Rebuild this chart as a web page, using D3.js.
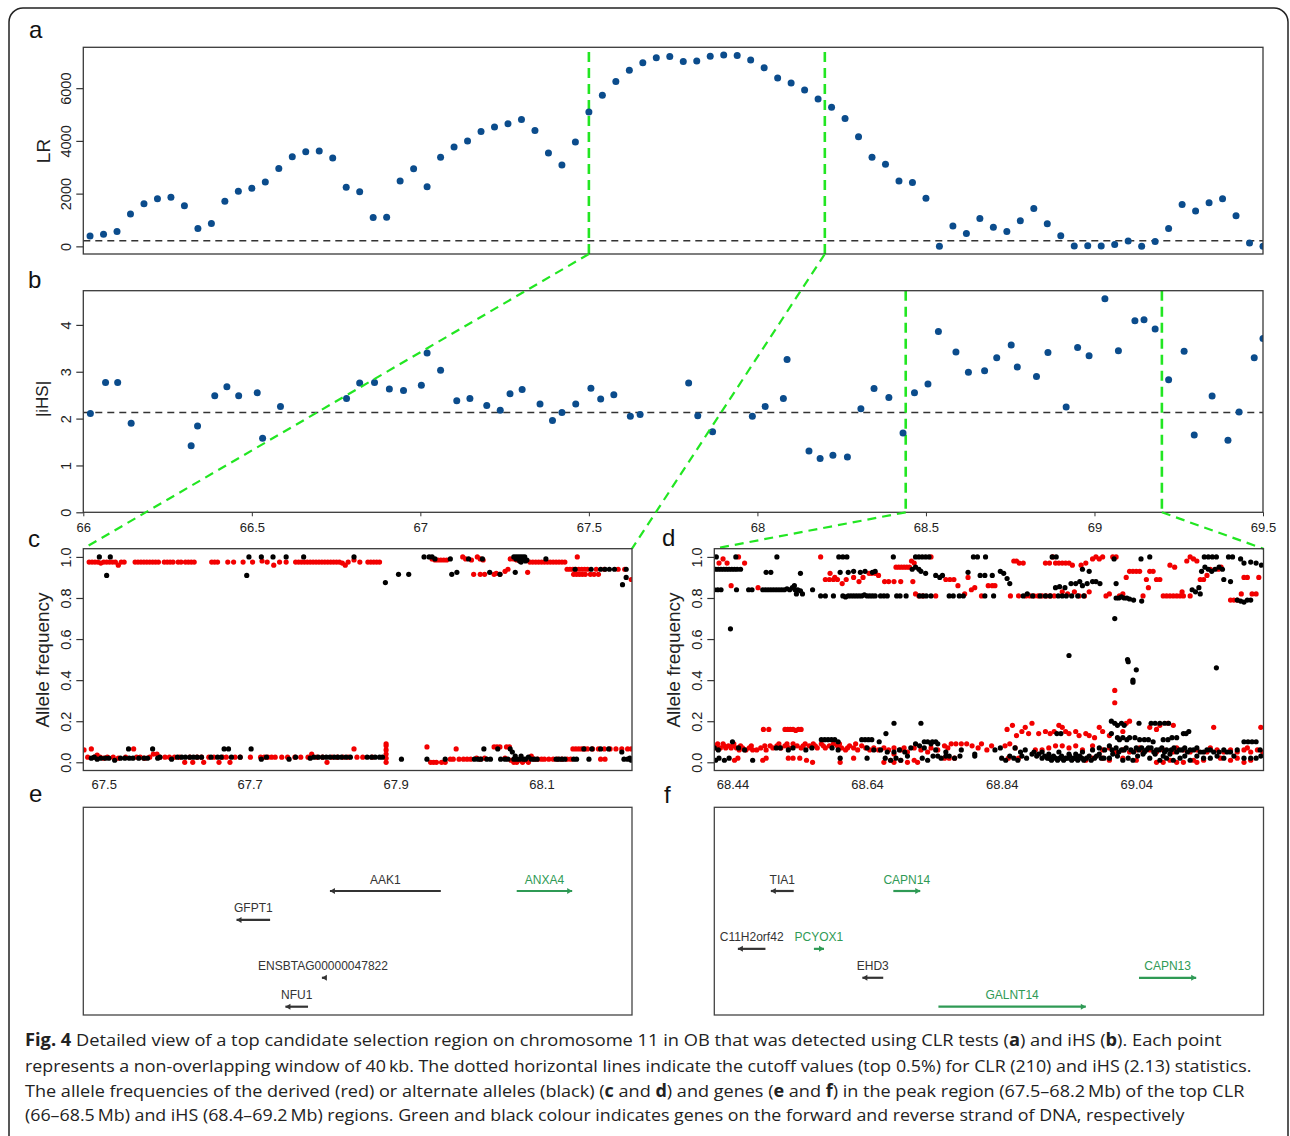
<!DOCTYPE html>
<html><head><meta charset="utf-8">
<script src="https://cdn.jsdelivr.net/npm/d3@7"></script>
<style>body{margin:0;background:#fff}svg{display:block}</style>
</head><body><svg id="fig" width="1290" height="1136"></svg>
<script>
// ---------------- DATA ----------------
// Panel a: CLR windows (Mb) and LR values
const posA = [66.02,66.06,66.10,66.14,66.18,66.22,66.26,66.30,66.34,66.38,
66.42,66.46,66.50,66.54,66.58,66.62,66.66,66.70,66.74,66.78,
66.82,66.86,66.90,66.94,66.98,67.02,67.06,67.10,67.14,67.18,
67.22,67.26,67.30,67.34,67.38,67.42,67.46,67.50,67.54,67.58,
67.62,67.66,67.70,67.74,67.78,67.82,67.86,67.90,67.94,67.98,
68.02,68.06,68.10,68.14,68.18,68.22,68.26,68.30,68.34,68.38,
68.42,68.46,68.50,68.54,68.58,68.62,68.66,68.70,68.74,68.78,
68.82,68.86,68.90,68.94,68.98,69.02,69.06,69.10,69.14,69.18,
69.22,69.26,69.30,69.34,69.38,69.42,69.46,69.50];
const lrValues = [390,455,560,1230,1620,1810,1860,1540,680,870,
1710,2090,2200,2440,2950,3400,3590,3620,3350,2240,
2070,1090,1100,2480,2940,2260,3380,3770,4000,4360,
4530,4650,4810,4390,3540,3090,3960,5100,5730,6250,
6680,6960,7150,7200,7010,7030,7210,7260,7240,7070,
6770,6390,6200,5930,5590,5280,4850,4160,3380,3110,
2480,2420,1820,0,770,490,1060,720,560,970,
1440,860,400,15,25,15,75,200,0,180,
680,1590,1340,1650,1810,1160,130,0];
const lrCutoff = 210;
const lrTicks = [0,2000,4000,6000];

// Panel b: iHS windows
const posB = [66.021,66.066,66.102,66.142,66.32,66.339,66.39,66.426,66.461,66.516,66.532,66.585,
66.781,66.82,66.864,66.908,66.95,67.003,67.02,67.06,67.108,67.147,67.197,67.237,67.266,67.302,
67.355,67.392,67.42,67.461,67.506,67.535,67.574,67.623,67.652,67.796,67.823,67.867,67.985,68.023,
68.077,68.088,68.153,68.186,68.224,68.267,68.307,68.346,68.39,68.432,68.466,68.506,68.537,68.589,
68.626,68.674,68.71,68.753,68.771,68.828,68.862,68.916,68.95,68.984,69.031,69.071,69.12,69.147,
69.18,69.22,69.266,69.296,69.349,69.396,69.429,69.474,69.5];
const ihsValues = [2.11,2.77,2.77,1.90,1.42,1.84,2.49,2.68,2.49,2.55,1.58,2.26,
2.43,2.76,2.77,2.63,2.60,2.71,3.40,3.03,2.38,2.43,2.28,2.18,2.53,2.62,
2.31,1.96,2.13,2.31,2.65,2.42,2.51,2.05,2.09,2.76,2.06,1.72,2.05,2.26,
2.43,3.26,1.31,1.15,1.22,1.18,2.21,2.64,2.45,1.69,2.55,2.74,3.86,3.42,
2.99,3.02,3.30,3.57,3.10,2.90,3.41,2.25,3.52,3.34,4.56,3.45,4.09,4.11,
3.91,2.83,3.44,1.65,2.48,1.54,2.14,3.30,3.71];
const ihsCutoff = 2.13;
const ihsTicks = [0,1,2,3,4];
const xTicksAB = [66,66.5,67,67.5,68,68.5,69,69.5];

// Highlighted regions
const clrPeak = [67.5, 68.2];
const ihsPeak = [68.44, 69.2];

// Panel c: allele frequencies [position Mb, frequency]
const cDerived = [
[67.480,.975],[67.484,.975],[67.488,.975],[67.492,.975],[67.496,.97],[67.500,.975],[67.504,.975],[67.508,.975],[67.512,.975],[67.516,.975],[67.520,.96],[67.524,.975],[67.528,.975],
[67.543,.975],[67.547,.975],[67.551,.975],[67.555,.975],[67.559,.975],[67.563,.975],[67.567,.975],[67.571,.975],[67.575,.975],
[67.583,.975],[67.587,.975],[67.591,.975],[67.595,.975],[67.602,.975],[67.606,.975],[67.612,.975],[67.616,.975],[67.620,.975],[67.624,.975],
[67.648,.975],[67.652,.975],[67.656,.975],[67.670,.975],[67.678,.975],[67.691,.975],
[67.704,.975],[67.717,.98],[67.724,.975],[67.733,.96],[67.741,.975],[67.750,.975],
[67.763,.975],[67.767,.975],[67.771,.975],[67.775,.975],[67.779,.975],[67.783,.975],[67.787,.975],[67.791,.975],[67.795,.975],[67.799,.975],[67.803,.975],[67.807,.975],[67.811,.975],[67.815,.975],[67.819,.975],[67.823,.975],[67.827,.97],[67.831,.96],[67.835,.975],
[67.843,.985],[67.851,.975],[67.862,.975],[67.866,.975],[67.870,.975],[67.874,.975],[67.878,.975],
[67.950,.99],[67.954,.985],[67.958,.985],[67.962,.985],[67.966,.985],[67.970,.985],
[67.992,1.0],[67.996,.99],[68.004,.985],[68.012,1.0],[68.016,.99],[68.020,.985],
[68.007,.915],[68.016,.915],[68.022,.915],[68.035,.915],[68.038,.92],[68.043,.915],
[68.050,.93],[68.054,.94],[68.057,.99],[68.062,.99],[68.066,.985],[68.070,.99],[68.081,.925],
[68.084,.975],[68.088,.975],[68.092,.975],[68.096,.975],[68.100,.975],[68.104,.975],[68.108,.975],[68.112,.975],[68.116,.975],[68.120,.975],[68.124,.975],[68.128,.975],[68.132,.975],
[68.149,1.0],
[68.135,.94],[68.139,.94],[68.143,.94],[68.147,.94],[68.151,.94],[68.155,.94],[68.159,.94],[68.163,.94],[68.175,.94],[68.186,.94],[68.205,.94],[68.214,.94],
[68.144,.915],[68.148,.915],[68.152,.915],[68.156,.915],[68.160,.915],[68.167,.915],[68.172,.915],[68.178,.915],[68.223,.89],
[67.473,.06],[67.478,.025],[67.483,.065],[67.487,.025],[67.491,.035],[67.495,.025],[67.50,.02],[67.505,.025],[67.513,.025],[67.52,.02],[67.53,.025],[67.541,.065],[67.545,.025],[67.55,.025],[67.556,.02],[67.563,.025],[67.568,.04],[67.573,.04],[67.577,.025],[67.584,.025],[67.59,.025],[67.597,.025],[67.604,.025],[67.611,.0],[67.618,.025],[67.622,.0],[67.628,.025],[67.634,.025],[67.637,.0],[67.644,.025],[67.651,.025],[67.658,.0],[67.663,.025],[67.668,.025],[67.673,.0],[67.68,.025],[67.687,.025],[67.701,.025],[67.715,.025],[67.72,.025],[67.725,.025],[67.73,.025],[67.735,.025],[67.744,.025],[67.752,.025],[67.762,.025],[67.77,.025],[67.78,.025],[67.785,.04],[67.792,.025],[67.8,.025],[67.806,.0],[67.813,.025],[67.82,.025],[67.828,.025],[67.835,.025],[67.843,.065],[67.847,.025],[67.855,.025],[67.868,.025],
[67.887,0],[67.887,.02],[67.887,.04],[67.887,.06],[67.887,.08],[67.887,.09],
[67.943,.075],[67.948,0],[67.952,0],[67.956,0],[67.963,0],[67.968,0],[67.975,.015],[67.979,.015],[67.983,.065],[67.987,.015],[67.993,.015],[67.998,.015],[68.003,.015],[68.011,.02],[68.016,.015],[68.022,.02],
[68.035,.075],[68.039,.075],[68.043,.075],[68.05,.02],[68.052,.075],[68.056,.075],[68.058,.01],[68.062,.0],[68.066,0],[68.07,.01],[68.074,0],[68.078,.01],[68.082,.0],[68.086,.03],[68.09,.015],
[68.095,.015],[68.1,.015],[68.104,.015],[68.11,.015],[68.116,.015],[68.122,.015],[68.128,.015],[68.135,.015],[68.14,.015],
[68.143,.065],[68.147,.065],[68.151,.065],[68.155,.065],[68.159,.065],[68.163,.065],[68.17,.065],[68.178,.065],[68.186,.065],[68.194,.065],[68.202,.065],[68.21,.065],[68.218,.065],[68.223,.065],
[68.181,.015],[68.187,.015]];
const cAlternate = [
[67.494,1.0],[67.509,1.0],[67.504,.91],[67.699,1.0],[67.696,.91],[67.716,1.0],[67.732,1.0],[67.750,1.0],[67.774,1.0],[67.843,1.0],[67.886,.875],[67.904,.915],[67.918,.915],
[67.939,1.0],[67.946,1.0],[67.950,1.0],[67.954,.99],[67.975,.99],[67.977,.915],[67.984,.925],[68.000,.99],[68.019,.99],[68.029,.925],[68.043,.915],[68.064,.925],
[68.062,1.0],[68.065,1.0],[68.068,1.0],[68.071,1.0],[68.074,1.0],[68.077,1.0],[68.065,.99],[68.07,.98],[68.074,.99],[68.078,.98],[68.072,.975],[68.08,.985],[68.106,.99],
[68.146,.94],[68.168,.94],[68.181,.94],[68.187,.94],[68.193,.94],[68.2,.94],[68.216,.94],[68.216,.9],[68.211,.865],
[67.483,.02],[67.487,.025],[67.491,.015],[67.496,.02],[67.502,.02],[67.507,.02],[67.515,.01],[67.523,.02],[67.529,.02],[67.534,.065],[67.535,.02],[67.54,.02],[67.548,.02],[67.555,.02],[67.56,.02],[67.567,.065],[67.574,.02],[67.577,.025],[67.593,.015],[67.601,.025],[67.607,.025],[67.612,.025],[67.618,.025],[67.623,.025],[67.628,.025],[67.634,.025],[67.647,.025],[67.656,.025],[67.661,.025],[67.665,.065],[67.671,.065],[67.675,.025],[67.687,.025],[67.702,.065],[67.716,.015],[67.723,.025],[67.754,.015],[67.763,.025],[67.783,.02],[67.788,.025],[67.794,.025],[67.8,.025],[67.805,.025],[67.81,.025],[67.816,.025],[67.821,.025],[67.826,.025],[67.832,.025],[67.838,.025],[67.861,.025],[67.867,.025],[67.872,.025],[67.878,.025],[67.882,.025],
[67.908,.015],[67.943,.015],[67.968,.015],
[68.008,.015],[68.013,.015],[68.017,.015],[68.021,.065],[68.025,.015],[68.03,.015],[68.04,.065],[68.044,.015],[68.05,.015],[68.054,.015],[68.057,.065],[68.06,.05],[68.062,.015],[68.064,.03],[68.066,.015],[68.07,.015],[68.072,.03],[68.075,.015],[68.078,.015],[68.082,.025],[68.086,.015],[68.09,.015],[68.094,.015],
[68.12,.015],[68.124,.015],[68.128,.015],[68.132,.015],[68.144,.015],[68.148,.015],[68.165,.015],
[68.158,.065],[68.169,.065],[68.181,.065],[68.192,.065],[68.21,.05],[68.213,.015],[68.218,.015],[68.221,.02],[68.223,.01]];

// Panel d
const dDerived = [
[68.42,.97],[68.426,.99],[68.432,.97],[68.438,.86],[68.449,1.0],[68.458,.97],[68.478,.85],
[68.571,1.0],[68.578,.89],[68.584,.89],[68.59,.89],[68.596,.89],[68.603,.87],[68.609,.89],[68.62,.9],[68.643,.92],[68.647,.92],[68.652,.92],[68.657,.91],[68.666,.88],[68.672,.88],[68.68,.88],[68.69,.88],[68.683,.95],[68.687,.95],[68.691,.95],[68.695,.95],[68.699,.95],[68.703,.95],[68.708,.88],[68.712,.82],[68.717,.81],[68.723,.81],[68.735,1.0],[68.742,.81],[68.757,.89],[68.763,.89],[68.769,.89],[68.775,.86],[68.785,.82],[68.8,.85],[68.81,.81],[68.82,.86],[68.826,.86],[68.83,.86],[68.858,.98],[68.862,.98],[68.866,.97],[68.872,.97],[68.876,.81],[68.882,.81],[68.888,.81],[68.894,.81],[68.9,.81],[68.906,.81],[68.912,.81],[68.918,.81],[68.905,.97],[68.911,.97],[68.916,1.0],[68.92,.97],[68.925,.97],[68.93,.97],[68.935,.97],[68.94,.97],[68.945,.96],[68.93,.83],[68.938,.82],[68.948,.83],[68.955,.81],[68.963,.81],[68.97,.83],[68.975,.99],[68.98,1.0],[68.985,.99],[68.99,1.0],[68.995,.81],[69.0,.82],[69.005,1.0],[69.01,1.0],[69.015,.81],[69.02,.82],[69.025,.9],[69.03,.93],[69.035,.93],[69.04,.93],[69.045,.93],[69.05,.81],[69.055,.89],[69.06,.93],[69.065,.93],[69.07,.89],[69.075,.89],[69.08,.81],[69.085,.81],[69.09,.81],[69.095,.81],[69.1,.81],[69.105,.81],[69.11,.81],[69.12,.81],[69.115,.98],[69.12,1.0],[69.125,.99],[69.13,.98],[69.135,.89],[69.14,.89],[69.145,.91],[69.15,.94],[69.162,.94],[69.18,.79],[69.185,.79],[69.19,.79],[69.196,.82],[69.2,.9],[69.205,.9],[69.212,.82],[69.218,.82],[69.222,.9],
[68.585,.92],[68.592,.9],[68.628,.88],[68.634,.9],[68.706,.98],[68.71,.97],[68.79,.9],[68.795,.84],[68.853,.81],[68.865,.81],[68.958,.96],[68.965,.97],[69.058,.85],[69.09,.96],[69.097,.95],[69.108,.83],[69.166,.95],
[69.008,.35],[69.008,.29],
[68.413,.07],[68.418,.09],[68.422,.07],[68.426,.09],[68.43,.07],[68.434,.08],[68.438,.07],[68.442,.09],[68.446,.07],[68.45,.06],[68.455,.07],[68.46,.06],[68.465,.07],[68.47,.06],[68.476,.06],[68.482,.07],[68.49,.06],[68.496,.08],[68.5,.07],[68.506,.08],[68.512,.07],[68.518,.08],[68.524,.07],[68.53,.09],[68.536,.08],[68.542,.07],[68.548,.09],[68.554,.08],[68.56,.09],[68.566,.07],[68.572,.09],[68.578,.07],[68.584,.08],[68.59,.09],[68.596,.08],[68.602,.07],[68.608,.06],[68.614,.08],[68.62,.07],[68.626,.06],[68.632,.08],[68.638,.07],[68.644,.06],[68.65,.07],[68.657,.06],[68.665,.07],[68.672,.06],[68.68,.04],[68.69,.06],[68.7,.05],[68.71,.07],[68.72,.06],[68.73,.05],[68.745,.06],[68.755,.08],[68.765,.09],[68.772,.09],[68.78,.09],[68.788,.09],[68.796,.08],[68.805,.07],[68.818,.06],[68.845,.08],[68.852,.09],[68.86,.07],[68.89,.06],[68.9,.06],[68.92,.08],[68.93,.08],[68.94,.07],[68.96,.06],[68.975,.08],[68.99,.06],[69.01,.05],[69.02,.06],[69.03,.05],[69.04,.06],[69.05,.05],[69.06,.06],[69.07,.05],[69.08,.06],[69.095,.05],[69.11,.06],[69.12,.05],[69.13,.06],[69.145,.05],[69.16,.06],[69.17,.05],[69.18,.06],[69.19,.05],[69.2,.06],[69.21,.05],[69.22,.06],[69.228,.05],
[68.416,.08],[68.428,.08],[68.44,.08],[68.452,.08],[68.468,.08],[68.488,.08],[68.509,.09],[68.521,.09],[68.545,.08],[68.563,.08],[68.575,.08],[68.599,.09],[68.611,.07],[68.623,.09],[68.68,.07],[68.695,.07],[68.735,.07],[68.76,.07],[68.81,.09],[68.825,.08],[68.91,.07],[68.95,.08],[69.0,.07],[69.045,.07],[69.1,.07],[69.15,.07],[69.205,.07],
[68.486,.16],[68.494,.16],[68.518,.16],[68.522,.16],[68.526,.16],[68.53,.16],[68.534,.155],[68.538,.16],[68.542,.16],
[68.443,.01],[68.448,.02],[68.485,.01],[68.49,.02],[68.523,.02],[68.53,.02],[68.54,.02],[68.55,.01],[68.559,.0],[68.6,.0],[68.62,.02],[68.665,.0],[68.675,.01],[68.68,.0],[68.69,.01],[68.7,.0],[68.71,.01],[68.715,.0],[68.755,.02],[68.762,.02],[68.77,.02],[68.85,.02],[68.865,.02],[68.95,.02],[68.965,.01],[68.975,.02],[68.99,.02],[69.0,.01],[69.02,.02],[69.04,.01],[69.07,.0],[69.08,.0],[69.09,.01],[69.1,.0],[69.11,.0],[69.125,.01],[69.13,.0],[69.14,.01],[69.165,.02],[69.18,.01],[69.19,.02],[69.2,.0],[69.21,.01],
[68.848,.16],[68.856,.18],[68.862,.13],[68.87,.15],[68.875,.17],[68.88,.14],[68.885,.19],[68.895,.14],[68.905,.15],[68.912,.14],[68.918,.15],[68.925,.18],[68.93,.17],[68.935,.15],[68.94,.14],[68.95,.15],[68.955,.13],[68.965,.14],[68.97,.13],[68.978,.12],[68.985,.17],[68.99,.15],[69.0,.13],[69.025,.19],[69.03,.2],[69.06,.17],[69.07,.16],[69.075,.18],[69.087,.19],[69.095,.18],[69.155,.17],[69.225,.17],[69.02,.15]];
const dAlternate = [
[68.415,.94],[68.419,.94],[68.423,.94],[68.427,.94],[68.431,.94],[68.435,.94],[68.439,.94],[68.443,.94],[68.447,.94],[68.452,.94],
[68.416,1],[68.445,1],[68.506,1],[68.598,1],[68.604,1],[68.61,1],[68.679,1],[68.712,1],[68.717,1],[68.722,1],[68.727,1],[68.732,1],[68.798,1],[68.804,1],[68.816,1],[68.915,1],[68.921,1],[69.007,.99],[69.047,.99],[69.06,1],[69.141,1],[69.147,1],[69.153,1],[69.159,1],[69.177,1],[69.183,1],[69.195,.99],
[68.413,.84],[68.418,.84],[68.423,.84],[68.446,.84],[68.464,.84],[68.469,.84],[68.485,.84],[68.489,.84],[68.493,.84],[68.497,.84],[68.501,.84],[68.505,.84],[68.509,.84],[68.513,.84],[68.517,.84],[68.521,.845],[68.525,.84],[68.529,.85],[68.533,.84],[68.537,.84],[68.541,.835],[68.544,.82],[68.559,.84],
[68.571,.81],[68.578,.81],[68.59,.81],[68.604,.81],[68.608,.805],[68.612,.81],[68.616,.81],[68.62,.81],[68.624,.81],[68.628,.81],[68.632,.81],[68.636,.815],[68.64,.81],[68.644,.81],[68.648,.81],[68.652,.81],[68.66,.81],[68.665,.81],[68.67,.81],[68.684,.81],[68.689,.81],[68.698,.81],[68.718,.81],[68.723,.81],[68.728,.81],[68.735,.81],[68.762,.81],[68.768,.81],[68.777,.81],[68.783,.81],[68.815,.81],[68.828,.81],[68.872,.81],[68.878,.82],[68.886,.81],[68.897,.81],[68.905,.81],[68.912,.81],[68.924,.81],[68.93,.81],[68.936,.81],[68.944,.81],[68.953,.81],[68.962,.81],[69.01,.80],[69.014,.80],[69.018,.805],[69.022,.80],[69.026,.80],[69.03,.795],[69.036,.79],
[68.49,.925],[68.497,.925],[68.541,.92],[68.6,.925],[68.612,.925],[68.62,.93],[68.63,.925],[68.637,.93],[68.648,.925],[68.652,.93],[68.707,.94],[68.712,.95],[68.717,.94],[68.72,.93],[68.727,.92],[68.742,.91],[68.748,.9],[68.752,.91],[68.79,.925],[68.808,.91],[68.815,.91],[68.826,.91],[68.838,.93],[68.843,.92],[68.848,.895],[68.852,.87],[68.96,.94],[68.97,.93],[69.137,.93],[69.142,.95],[69.147,.94],[69.152,.93],[69.157,.94],[69.163,.95],[69.168,.94],[69.17,.89],
[68.532,.86],[68.535,.82],[68.92,.85],[68.926,.855],[68.934,.85],[68.943,.87],[68.95,.87],[68.956,.88],[68.96,.86],[68.967,.87],[68.975,.88],[68.98,.88],[68.986,.87],[69.01,.87],[69.123,.84],[69.128,.83],[69.133,.85],[69.135,.82],[69.18,.88],
[69.048,.785],[69.19,.79],[69.195,.785],[69.2,.78],[69.205,.79],[69.21,.79],[69.2,.97],[69.21,.975],[69.218,.97],[69.226,.96],
[68.437,.65],[69.008,.7],[68.94,.52],[69.027,.5],[69.028,.49],[69.04,.45],[69.035,.4],[69.035,.39],[69.159,.46],
[68.415,.01],[68.42,.02],[68.428,.01],[68.435,.02],[68.47,.01],[68.6,.02],[68.64,.02],[68.667,.02],[68.675,.01],[68.683,.02],[68.69,.01],[68.7,.03],[68.722,.02],[68.73,.01],[68.738,.03],[68.745,.03],[68.75,.02],[68.757,.03],[68.762,.03],[68.77,.02],[68.778,.03],[68.8,.03],[68.84,.02],[68.846,.01],[68.852,.03],[68.858,.02],[68.864,.01],[68.87,.03],[68.877,.02],[68.885,.04],[68.892,.03],[68.9,.02],[68.908,.02],[68.914,.01],[68.92,.02],[68.926,.02],[68.932,.01],[68.938,.02],[68.944,.01],[68.95,.02],[68.956,.03],[68.962,.01],[68.97,.03],[68.978,.02],[68.985,.04],[68.992,.02],[69.0,.02],[69.02,.01],[69.028,.02],[69.035,.01],[69.06,.02],[69.075,.01],[69.085,.02],[69.095,.01],[69.105,.02],[69.12,.01],[69.14,.02],[69.15,.02],[69.17,.02],[69.2,.02],[69.21,.02],[69.218,.02],[69.225,.03],
[68.904,.03],[68.911,.02],[68.917,.03],[68.923,.01],[68.929,.03],[68.935,.02],[68.941,.03],[68.947,.02],[68.953,.01],[68.959,.02],[68.966,.02],[68.973,.01],[68.981,.03],[68.988,.02],[69.005,.04],[69.012,.03],[69.042,.03],[69.05,.04],[69.068,.04],[69.08,.03],[69.09,.04],[69.112,.03],[69.13,.03],[69.16,.03],[69.185,.03],
[68.413,.07],[68.419,.06],[68.44,.1],[68.449,.07],[68.458,.06],[68.505,.07],[68.511,.07],[68.523,.06],[68.53,.07],[68.549,.06],[68.558,.07],[68.588,.07],[68.597,.06],[68.64,.07],[68.65,.06],[68.66,.06],[68.67,.05],[68.68,.05],[68.688,.06],[68.696,.05],[68.705,.07],[68.712,.09],[68.718,.08],[68.725,.07],[68.735,.09],[68.742,.06],[68.757,.05],[68.78,.06],[68.8,.04],[68.83,.06],[68.838,.07],[68.86,.07],[68.868,.05],[68.875,.06],[68.888,.05],[68.895,.04],[68.9,.05],[68.91,.04],[68.925,.05],[68.94,.04],[68.95,.04],[68.96,.05],[68.975,.06],[68.985,.07],[68.993,.06],[69.0,.08],[69.01,.07],[69.018,.06],[69.025,.07],[69.032,.06],[69.04,.07],[69.048,.07],[69.055,.06],[69.062,.07],[69.07,.06],[69.078,.07],[69.085,.06],[69.092,.06],[69.1,.05],[69.108,.06],[69.116,.05],[69.125,.06],[69.135,.05],[69.145,.06],[69.155,.05],[69.163,.05],[69.175,.05],[69.19,.06],[69.2,.1],[69.206,.1],[69.212,.1],[69.218,.1],[69.224,.06],
[69.004,.06],[69.014,.05],[69.022,.06],[69.036,.05],[69.044,.06],[69.052,.05],[69.058,.07],[69.066,.05],[69.074,.06],[69.082,.05],[69.096,.07],[69.104,.06],[69.112,.07],[69.12,.06],[69.13,.07],[69.14,.05],[69.15,.06],[69.17,.06],[69.18,.05],
[68.572,.11],[68.577,.11],[68.582,.11],[68.587,.11],[68.592,.11],[68.597,.1],[68.632,.11],[68.637,.11],[68.642,.11],[68.647,.11],[68.658,.1],[68.668,.14],[68.725,.1],[68.73,.1],[68.737,.1],[68.742,.1],[68.745,.09],[68.922,.14],[68.928,.14],[69.003,.14],[69.012,.12],[69.015,.11],[69.02,.12],[69.026,.11],[69.03,.12],[69.038,.12],[69.045,.11],[69.052,.11],[69.058,.11],[69.065,.1],[69.08,.11],[69.087,.11],[69.093,.12],[69.1,.12],[69.11,.14],[69.114,.14],[69.118,.15],
[68.68,.19],[68.72,.19],[69.003,.2],[69.008,.19],[69.012,.18],[69.018,.19],[69.022,.18],[69.044,.19],[69.062,.19],[69.068,.19],[69.075,.19],[69.082,.19],[69.088,.19]];
const afTicks = [0,0.2,0.4,0.6,0.8,1.0];
const xTicksC = [67.5,67.7,67.9,68.1];
const xTicksD = [68.44,68.64,68.84,69.04];

// Panels e, f: genes (start, end in Mb, strand, row)
const genesE = [
 {name:"AAK1", start:67.810, end:67.962, strand:-1, row:1},
 {name:"ANXA4", start:68.066, end:68.142, strand:1, row:1},
 {name:"GFPT1", start:67.682, end:67.728, strand:-1, row:2},
 {name:"ENSBTAG00000047822", start:67.799, end:67.802, strand:-1, row:4},
 {name:"NFU1", start:67.749, end:67.780, strand:-1, row:5}];
const genesF = [
 {name:"TIA1", start:68.497, end:68.531, strand:-1, row:1},
 {name:"CAPN14", start:68.679, end:68.719, strand:1, row:1},
 {name:"C11H2orf42", start:68.448, end:68.489, strand:-1, row:3},
 {name:"PCYOX1", start:68.561, end:68.576, strand:1, row:3},
 {name:"EHD3", start:68.633, end:68.664, strand:-1, row:4},
 {name:"CAPN13", start:69.044, end:69.129, strand:1, row:4},
 {name:"GALNT14", start:68.746, end:68.965, strand:1, row:5}];

const captionLines = [
 [["Fig. 4",true],[" Detailed view of a top candidate selection region on chromosome 11 in OB that was detected using CLR tests (",false],["a",true],[") and iHS (",false],["b",true],["). Each point",false]],
 [["represents a non-overlapping window of 40\u2009kb. The dotted horizontal lines indicate the cutoff values (top 0.5%) for CLR (210) and iHS (2.13) statistics.",false]],
 [["The allele frequencies of the derived (red) or alternate alleles (black) (",false],["c",true],[" and ",false],["d",true],[") and genes (",false],["e",true],[" and ",false],["f",true],[") in the peak region (67.5\u201368.2\u2009Mb) of the top CLR",false]],
 [["(66\u201368.5\u2009Mb) and iHS (68.4\u201369.2\u2009Mb) regions. Green and black colour indicates genes on the forward and reverse strand of DNA, respectively",false]]];

// ---------------- DRAWING ----------------
const svg = d3.select("#fig");
const FONT = "'Liberation Sans', Arial, sans-serif";
const BLUE = "#0b4c8c", GREEN_LINE = "#22e622", GENE_GREEN = "#2f9a55", GENE_BLACK = "#333";
svg.append("rect").attr("width",1290).attr("height",1136).attr("fill","#fff");
svg.append("rect").attr("x",9).attr("y",8).attr("width",1279).attr("height",1200).attr("rx",14)
  .attr("fill","none").attr("stroke","#222").attr("stroke-width",1.5);

const xAB = d3.scaleLinear().domain([66,69.5]).range([83.3,1263]);
const yA = d3.scaleLinear().domain([-290,7550]).range([254,47.3]);
const yB = d3.scaleLinear().domain([0,4.73]).range([512.3,290.7]);
const xC = d3.scaleLinear().domain([67.472,68.224]).range([83.3,632]);
const xD = d3.scaleLinear().domain([68.413,69.229]).range([714.3,1263.5]);
const yCD = d3.scaleLinear().domain([-0.04,1.04]).range([770.5,548.7]);
const yGene = d3.scaleLinear().domain([1,5]).range([891,1006.7]);

let clipN = 0;
function clipFor(x0,x1,y0,y1){
  const id = "clip"+(clipN++);
  svg.append("clipPath").attr("id",id).append("rect").attr("x",x0).attr("y",y0).attr("width",x1-x0).attr("height",y1-y0);
  return "url(#"+id+")";
}
function box(x0,x1,y0,y1,stroke){
  svg.append("rect").attr("x",x0).attr("y",y0).attr("width",x1-x0).attr("height",y1-y0)
    .attr("fill","none").attr("stroke",stroke||"#3a3a3a").attr("stroke-width",1.3);
}
function leftAxis(scale, ticks, fmt, x0){
  const g = svg.append("g").attr("transform","translate("+x0+",0)")
    .call(d3.axisLeft(scale).tickValues(ticks).tickFormat(fmt).tickSize(7).tickSizeOuter(0));
  g.select(".domain").remove();
  g.selectAll(".tick line").attr("stroke","#333").attr("stroke-width",1.2);
  g.selectAll(".tick text").attr("transform","rotate(-90)").attr("x",0).attr("y",-12.5).attr("dy",0)
    .attr("text-anchor","middle").attr("font-family",FONT).attr("font-size",14.5).attr("fill","#222");
  return g;
}
function yLabel(txt,x,y,size){
  svg.append("text").attr("transform","translate("+x+","+y+") rotate(-90)").attr("text-anchor","middle")
    .attr("font-family",FONT).attr("font-size",size).attr("fill","#222").text(txt);
}
function panelLetter(t,x,y){
  svg.append("text").attr("x",x).attr("y",y).attr("font-family",FONT).attr("font-size",24).attr("fill","#111").text(t);
}

// ---- Panel a
panelLetter("a",29,38);
const clipA = clipFor(83.3,1263,47.3,254);
svg.append("line").attr("x1",83.3).attr("x2",1263).attr("y1",yA(lrCutoff)).attr("y2",yA(lrCutoff))
  .attr("stroke","#333").attr("stroke-width",1.5).attr("stroke-dasharray","7,5");
clrPeak.forEach(v=>{
  svg.append("line").attr("x1",xAB(v)).attr("x2",xAB(v)).attr("y1",52).attr("y2",254)
    .attr("stroke",GREEN_LINE).attr("stroke-width",2.6).attr("stroke-dasharray","10,6");
});
svg.append("g").attr("clip-path",clipA).selectAll("circle").data(posA).join("circle")
  .attr("cx",d=>xAB(d)).attr("cy",(d,i)=>yA(lrValues[i])).attr("r",3.5).attr("fill",BLUE);
box(83.3,1263,47.3,254);
leftAxis(yA, lrTicks, d3.format("d"), 83.3);
yLabel("LR",50,151,19);

// ---- Panel b
panelLetter("b",28,288);
const clipB = clipFor(83.3,1263,290.7,512.3);
svg.append("line").attr("x1",83.3).attr("x2",1263).attr("y1",yB(ihsCutoff)).attr("y2",yB(ihsCutoff))
  .attr("stroke","#333").attr("stroke-width",1.5).attr("stroke-dasharray","7,5");
ihsPeak.forEach(v=>{
  svg.append("line").attr("x1",xAB(v)).attr("x2",xAB(v)).attr("y1",290.7).attr("y2",512.3)
    .attr("stroke",GREEN_LINE).attr("stroke-width",2.6).attr("stroke-dasharray","10,6");
});
svg.append("g").attr("clip-path",clipB).selectAll("circle").data(posB).join("circle")
  .attr("cx",d=>xAB(d)).attr("cy",(d,i)=>yB(ihsValues[i])).attr("r",3.5).attr("fill",BLUE);
box(83.3,1263,290.7,512.3);
leftAxis(yB, ihsTicks, d3.format("d"), 83.3);
yLabel("|iHS|",48,399,17);
const gxb = svg.append("g").attr("transform","translate(0,512.3)")
  .call(d3.axisBottom(xAB).tickValues(xTicksAB).tickFormat(d=>String(d)).tickSize(4).tickPadding(6).tickSizeOuter(0));
gxb.select(".domain").remove();
gxb.selectAll(".tick line").attr("stroke","#333");
gxb.selectAll(".tick text").attr("font-family",FONT).attr("font-size",13).attr("fill","#222");

// ---- Connector lines (drawn over panel b)
const conn = [
 [xAB(clrPeak[0]),254,xC.range()[0],yCD.range()[1]],
 [xAB(clrPeak[1]),254,xC.range()[1],yCD.range()[1]],
 [xAB(ihsPeak[0]),512.3,xD.range()[0],yCD.range()[1]],
 [xAB(ihsPeak[1]),512.3,xD.range()[1],yCD.range()[1]]];
conn.forEach(c=>{
  svg.append("line").attr("x1",c[0]).attr("y1",c[1]).attr("x2",c[2]).attr("y2",c[3])
    .attr("stroke",GREEN_LINE).attr("stroke-width",2.2).attr("stroke-dasharray","9,6");
});

// ---- Panels c, d
function afPanel(xs, der, alt, ticks, x0, x1){
  const clip = clipFor(x0,x1,548.7,770.5);
  const g = svg.append("g").attr("clip-path",clip);
  g.append("g").selectAll("circle").data(der).join("circle")
    .attr("cx",d=>xs(d[0])).attr("cy",d=>yCD(d[1])).attr("r",2.6).attr("fill","#f20000");
  g.append("g").selectAll("circle").data(alt).join("circle")
    .attr("cx",d=>xs(d[0])).attr("cy",d=>yCD(d[1])).attr("r",2.6).attr("fill","#000");
  box(x0,x1,548.7,770.5);
  leftAxis(yCD, afTicks, d3.format(".1f"), x0);
  const gx = svg.append("g").attr("transform","translate(0,770.5)")
    .call(d3.axisBottom(xs).tickValues(ticks).tickFormat(d=>String(d)).tickSize(0).tickPadding(9).tickSizeOuter(0));
  gx.select(".domain").remove();
  gx.selectAll(".tick text").attr("font-family",FONT).attr("font-size",13).attr("fill","#222");
}
panelLetter("c",28,547);
afPanel(xC, cDerived, cAlternate, xTicksC, 83.3, 632);
yLabel("Allele frequency",49,660,19);
panelLetter("d",662,546);
afPanel(xD, dDerived, dAlternate, xTicksD, 714.3, 1263.5);
yLabel("Allele frequency",680,660,19);

// ---- Panels e, f
function genePanel(xs, genes, x0, x1){
  box(x0,x1,807.3,1015,"#444");
  const g = svg.append("g");
  genes.forEach(d=>{
    const col = d.strand>0 ? GENE_GREEN : GENE_BLACK;
    const a = xs(d.start), b = xs(d.end), y = yGene(d.row);
    const head = d.strand>0 ? b : a, dir = d.strand>0 ? -1 : 1;
    g.append("line").attr("x1",a).attr("x2",b).attr("y1",y).attr("y2",y).attr("stroke",col).attr("stroke-width",2.2);
    g.append("path").attr("d",`M${head},${y}L${head+dir*5},${y-3}L${head+dir*5},${y+3}Z`).attr("fill",col);
    g.append("text").attr("x",(a+b)/2).attr("y",y-7.5).attr("text-anchor","middle")
      .attr("font-family",FONT).attr("font-size",12).attr("fill",col).text(d.name);
  });
}
panelLetter("e",29,802);
genePanel(xC, genesE, 83.3, 632);
panelLetter("f",664,803);
genePanel(xD, genesF, 714.3, 1263.5);

// ---- Caption
const capTargets = [[1046,1223],[1072,1252],[1097,1245],[1121,1185]];
captionLines.forEach((parts,i)=>{
  const t = svg.append("text").attr("font-family","'Open Sans', sans-serif").attr("font-size",17).attr("fill","#222");
  parts.forEach(p=>t.append("tspan").attr("font-weight",p[1]?"700":"400").text(p[0]));
  const w = t.node().getComputedTextLength();
  const sx = (capTargets[i][1]-25)/w;
  t.attr("transform",`translate(25,${capTargets[i][0]}) scale(${sx},1)`);
});
</script></body></html>
